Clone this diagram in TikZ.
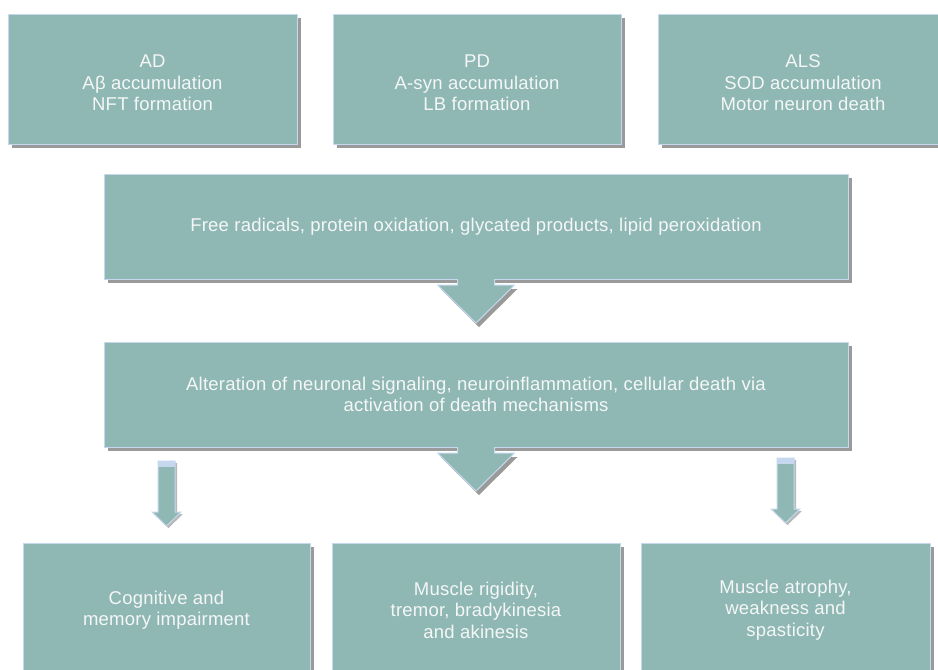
\documentclass[tikz,border=0pt]{standalone}
\usepackage{fontspec}
\setmainfont[LetterSpace=1.2]{Liberation Sans}
\usetikzlibrary{calc,shadows}

\definecolor{boxfill}{HTML}{8FB8B4}
\definecolor{boxedge}{HTML}{C6D8EE}
\definecolor{boxshade}{HTML}{9A9A9A}
\definecolor{boxtext}{HTML}{F4F7F6}

\tikzset{
  panel/.style={rectangle, inner sep=0pt, outer sep=0pt,
    fill=boxfill, draw=boxedge, line width=1pt,
    text=boxtext, align=center,
    font=\fontsize{18.5}{21.5}\selectfont,
    general shadow={fill=boxshade, shadow xshift=4pt, shadow yshift=-4pt}},
  edgeline/.style={draw=boxedge, line width=1pt, line join=miter},
}

% three centred lines, set a little lower inside their panel
\newcommand{\lowered}[1]{\begin{tabular}{@{}c@{}}\rule{0pt}{27pt}#1\end{tabular}}

% wide block arrow hanging from the bottom of a panel
\newcommand{\headarrow}[1]{%
  \fill[boxshade] ($(#1.south)+(-35.5,10)$) -- ($(#1.south)+(41.5,10)$)
    -- ($(#1.south)+(3,48)$) -- cycle;
  \fill[boxfill] ($(#1.south)+(-18.5,-6)$) -- ($(#1.south)+(-18.5,6)$)
    -- ($(#1.south)+(-38.5,6)$) -- ($(#1.south)+(0,44)$)
    -- ($(#1.south)+(38.5,6)$) -- ($(#1.south)+(18.5,6)$)
    -- ($(#1.south)+(18.5,-6)$) -- cycle;
  \draw[edgeline] ($(#1.south)+(-18.5,0)$) -- ($(#1.south)+(-18.5,6)$)
    -- ($(#1.south)+(-38.5,6)$) -- ($(#1.south)+(0,44)$)
    -- ($(#1.south)+(38.5,6)$) -- ($(#1.south)+(18.5,6)$)
    -- ($(#1.south)+(18.5,0)$);
}

% narrow block arrow from #1 (top of shaft) to #2 (tip)
\newcommand{\thinarrow}[2]{%
  \fill[boxshade!70] ($(#1)+(-6.5,2)$) -- ($(#2)+(-6.5,-12)$)
    -- ($(#2)+(-12.5,-12)$) -- ($(#2)+(2,2)$) -- ($(#2)+(16.5,-12)$)
    -- ($(#2)+(10.5,-12)$) -- ($(#1)+(10.5,2)$) -- cycle;
  \filldraw[fill=boxfill, edgeline] ($(#1)+(-8.5,0)$) -- ($(#2)+(-8.5,-14)$)
    -- ($(#2)+(-14.5,-14)$) -- (#2) -- ($(#2)+(14.5,-14)$)
    -- ($(#2)+(8.5,-14)$) -- ($(#1)+(8.5,0)$) -- cycle;
  \fill[boxedge] ($(#1)+(-8.5,0)$) rectangle ($(#1)+(8.5,6)$);
}

\begin{document}
\begin{tikzpicture}[x=1pt, y=-1pt]
\useasboundingbox (0,0) rectangle (938,670);

% disease panels
\node[panel, minimum width=289pt, minimum height=130pt] (ad) at (152.5,79)
  {\lowered{AD\\Aβ accumulation\\NFT formation}};
\node[panel, minimum width=288pt, minimum height=130pt] (pd) at (477,79)
  {\lowered{PD\\A-syn accumulation\\LB formation}};
\node[panel, minimum width=290pt, minimum height=130pt] (als) at (803,79)
  {\lowered{ALS\\SOD accumulation\\Motor neuron death}};

% common mechanisms
\node[panel, minimum width=744pt, minimum height=105pt] (free) at (476,226.5)
  {Free radicals, protein oxidation, glycated products, lipid peroxidation};
\node[panel, minimum width=744pt, minimum height=105pt] (alt) at (476,394.5)
  {Alteration of neuronal signaling, neuroinflammation, cellular death via\\activation of death mechanisms};

% clinical outcomes
\node[panel, minimum width=287pt, minimum height=134pt] (cog) at (166.5,610)
  {Cognitive and\\memory impairment};
\node[panel, minimum width=288pt, minimum height=134pt] (mus) at (476,610)
  {Muscle rigidity,\\tremor, bradykinesia\\and akinesis};
\node[panel, minimum width=289pt, minimum height=134pt] (atr) at (785.5,610)
  {Muscle atrophy,\\weakness and\\spasticity};

% arrows
\headarrow{free}
\headarrow{alt}

\coordinate (cogtop) at ($(cog.north)+(0,-82)$);
\coordinate (cogtip) at ($(cog.north)+(0,-17)$);
\coordinate (atrtop) at ($(atr.north)+(0,-85)$);
\coordinate (atrtip) at ($(atr.north)+(0,-20)$);
\thinarrow{cogtop}{cogtip}
\thinarrow{atrtop}{atrtip}
\end{tikzpicture}
\end{document}
